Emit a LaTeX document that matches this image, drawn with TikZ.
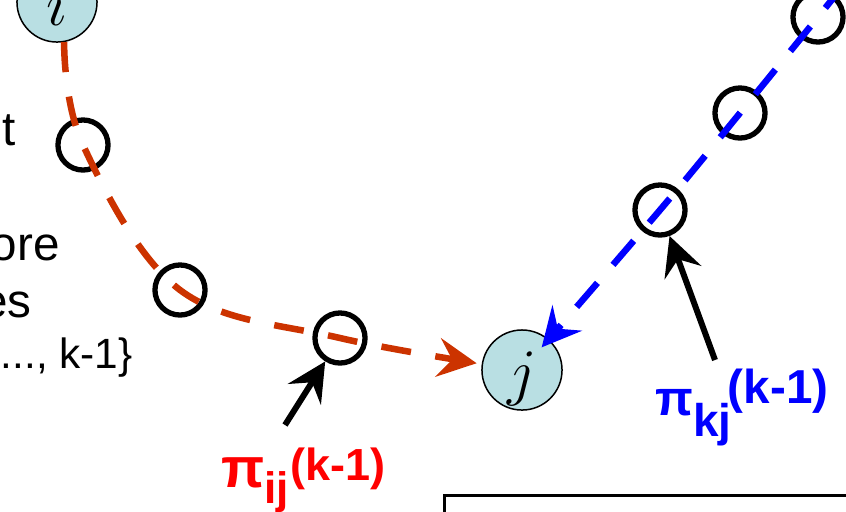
\RequirePackage{fix-cm}
\documentclass[tikz,border=0pt]{standalone}
\usepackage{fontspec}
\setmainfont{Liberation Sans}
\usetikzlibrary{arrows.meta}
\definecolor{nodecyan}{RGB}{185,223,227}
\definecolor{pathred}{RGB}{204,51,0}

\begin{document}
\begin{tikzpicture}[
    x=0.567pt, y=-0.567pt,
    vertex/.style={circle, draw=black, line width=0.85pt, fill=nodecyan, minimum size=45.4pt, inner sep=0pt, text height=27pt, text depth=0pt, font=\fontsize{36}{36}\selectfont},
    hop/.style={circle, draw=black, line width=3pt, minimum size=28.4pt, inner sep=0pt},
    tip_head/.style={-{Stealth[length=22pt, width=22pt, inset=8pt]}},
    red_path/.style={tip_head, draw=pathred, line width=3.7pt, dash pattern=on 17pt off 14pt},
    blue_path/.style={tip_head, draw=blue, line width=3.7pt, dash pattern=on 18pt off 13.5pt},
    pointer/.style={tip_head, draw=black, line width=3.4pt},
    note_text/.style={inner sep=0pt, anchor=base east}
]
    \useasboundingbox (0,0) rectangle (846,511);

    % End vertices
    \node (i) [vertex] at (57,2) {$i$};
    \node (j) [vertex] at (522,370) {$j$};

    % Intermediate hops
    \node (h1) [hop] at (83,145) {};
    \node (h2) [hop] at (180,290) {};
    \node (h3) [hop] at (340,338) {};
    \node (h4) [hop] at (818,17) {};
    \node (h5) [hop] at (740,113) {};
    \node (h6) [hop] at (660,210) {};
    \coordinate (bstart) at (845,-17);

    % Paths
    \draw[red_path, shorten >=26pt] plot[smooth, tension=0.6] coordinates {(i.-80) (h1.center) (h2.center) (h3.center) (j.center)};
    \draw[blue_path, shorten >=17pt] plot[smooth, tension=0.6] coordinates {(bstart) (h4.center) (h5.center) (h6.center) (j.center)};

    % Labels
    \node (pij) [anchor=base west, inner sep=0pt, text=red, font=\bfseries\fontsize{32}{32}\selectfont] at (221,487)
        {π\raisebox{-9.5pt}{\fontsize{25}{25}\selectfont ij}\kern1pt\raisebox{3.6pt}{\fontsize{25.5}{25.5}\selectfont (k-1)}};
    \node (pkj) [anchor=base west, inner sep=0pt, text=blue, font=\bfseries\fontsize{28}{28}\selectfont] at (655,415)
        {π\raisebox{-12pt}{\fontsize{26}{26}\selectfont kj}\kern-2pt\raisebox{6.8pt}{\fontsize{27}{27}\selectfont (k-1)}};
    \coordinate (pijtail) at (285,425);
    \coordinate (pkjtail) at (715,360);
    \draw[pointer] (pijtail) -- (h3);
    \draw[pointer] (pkjtail) -- (h6);

    % Cut-off text
    \node (line1) [note_text, font=\fontsize{27}{27}\selectfont] at (16,145) {t};
    \node (line3) [note_text, font=\fontsize{27}{27}\selectfont] at (60,260) {ore};
    \node (line4) [note_text, font=\fontsize{27}{27}\selectfont] at (32,317) {es};
    \node (line5) [note_text, font=\fontsize{24}{24}\selectfont] at (133,368) {..., k-1\}};

    % Box below
    \node (legend) [draw, line width=1.5pt, minimum width=300pt, minimum height=60pt, anchor=north west] at (443,494) {};
\end{tikzpicture}
\end{document}
